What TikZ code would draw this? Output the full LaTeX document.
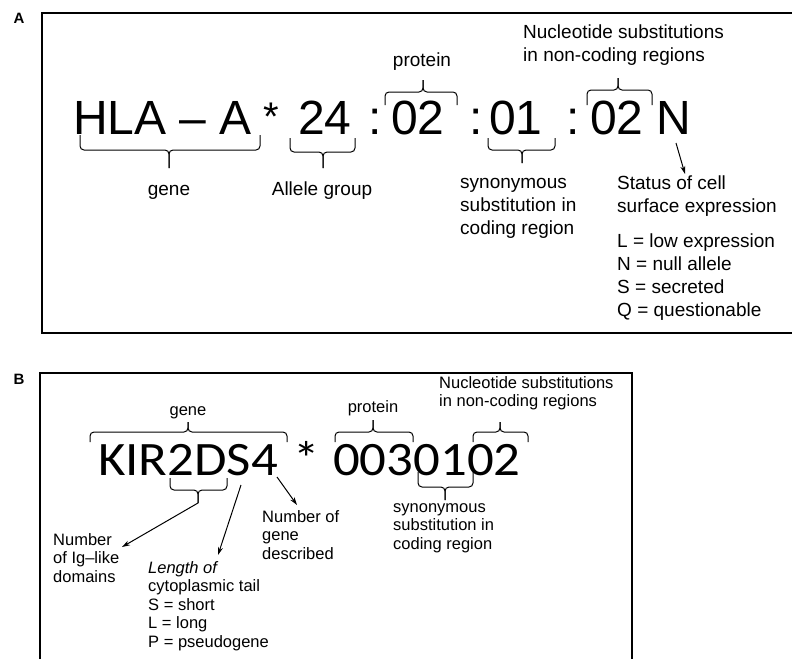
\documentclass[tikz,border=0pt]{standalone}
\usepackage{fontspec}
\usepackage{graphicx}
\setmainfont{Liberation Sans}
\newfontfamily\kirfont{Carlito}
\usetikzlibrary{arrows.meta}

\begin{document}
\begin{tikzpicture}[x=1pt,y=-1pt]
\tikzset{
  bigtxt/.style={inner sep=0pt,anchor=base west,font=\fontsize{48}{58}\selectfont},
  kirtxt/.style={inner sep=0pt,anchor=base west,font=\kirfont\fontsize{48}{58}\selectfont},
  lblA/.style={inner sep=0pt,align=left,anchor=base west,font=\fontsize{19}{23}\selectfont},
  lblB/.style={inner sep=0pt,align=left,anchor=base west,font=\fontsize{16.5}{18.5}\selectfont},
  brace/.style={line width=1pt,rounded corners=4pt},
  ptr/.style={line width=1pt,-{Stealth[length=8pt,width=5pt]}},
  frame/.style={line width=1.3pt},
  panel/.style={inner sep=0pt,font=\bfseries\fontsize{15}{18}\selectfont}
}
\useasboundingbox (0,0) rectangle (792,659);

% panel A
\node[panel] (pA) at (19,18) {A};
\draw[frame] (792,13) -- (42,13) -- (42,333) -- (792,333);
\node[bigtxt] (hla) at (73,134) {HLA -- A};
\node[bigtxt,font=\fontsize{40}{48}\selectfont] (astA) at (263,130) {*};
\node[bigtxt] (grp) at (298,134) {24};
\node[bigtxt] (colA) at (368,134) {:};
\node[bigtxt] (prot) at (391,134) {02};
\node[bigtxt] (colB) at (469,134) {:};
\node[bigtxt] (syn) at (489,134) {01};
\node[bigtxt] (colC) at (566,134) {:};
\node[bigtxt] (nonc) at (590,134) {02};
\node[bigtxt] (nN) at (656,134) {N};

% multi-line labels sit on their last line
\node[lblA,anchor=base] (geneA) at (169,195) {gene};
\node[lblA,anchor=base] (allele) at (322,195) {Allele group};
\node[lblA,anchor=base] (protA) at (422,66) {protein};
\node[lblA] (noncA) at (523,61) {Nucleotide substitutions\\in non-coding regions};
\node[lblA] (synA) at (460,234) {synonymous\\substitution in\\coding region};
\node[lblA] (stat) at (617,212) {Status of cell\\surface expression};
\node[lblA] (codes) at (617,316) {L = low expression\\N = null allele\\S = secreted\\Q = questionable};

\draw[brace] (80,135) |- (169,150) -- (169,168);
\draw[brace] (260,135) |- (169,150) -- (169,168);
\draw[brace] (290,138) |- (323,152) -- (323,168);
\draw[brace] (355,138) |- (323,152) -- (323,168);
\draw[brace] (385,105) |- (423,92) -- (423,80);
\draw[brace] (457,105) |- (423,92) -- (423,80);
\draw[brace] (488,138) |- (522,150) -- (522,163);
\draw[brace] (555,138) |- (522,150) -- (522,163);
\draw[brace] (587,105) |- (618,90) -- (618,78);
\draw[brace] (652,105) |- (618,90) -- (618,78);

\coordinate (nFrom) at (676,143);
\coordinate (nTo) at (685,174);
\draw[ptr] (nFrom) -- (nTo);

% panel B
\node[panel] (pB) at (19,379) {B};
\draw[frame] (40,659) -- (40,373) -- (632,373) -- (632,659);
\node[kirtxt] (kir) at (98,475) {\scalebox{1.1}[1]{KIR2DS4}};
\node[kirtxt] (astB) at (293,475) {\scalebox{1.1}[1]{*}};
\node[kirtxt] (num) at (333,475) {\scalebox{1.1}[1]{0030102}};

\node[lblB,anchor=base] (geneB) at (188,415) {gene};
\node[lblB,anchor=base] (protB) at (373,412) {protein};
\node[lblB] (noncB) at (439,406.5) {Nucleotide substitutions\\in non-coding regions};
\node[lblB] (synB) at (393,549) {synonymous\\substitution in\\coding region};
\node[lblB] (igdom) at (53,582) {Number\\of Ig--like\\domains};
\node[lblB] (tail) at (148,647) {{\itshape Length of}\\cytoplasmic tail\\S = short\\L = long\\P = pseudogene};
\node[lblB] (gnum) at (262,559) {Number of\\gene\\described};

\draw[brace] (90,442) |- (188,432) -- (188,422);
\draw[brace] (287,442) |- (188,432) -- (188,422);
\draw[brace] (335,442) |- (373,432) -- (373,420);
\draw[brace] (413,442) |- (373,432) -- (373,420);
\draw[brace] (473,442) |- (500,432) -- (500,422);
\draw[brace] (528,442) |- (500,432) -- (500,422);
\draw[brace] (418,472) |- (445,487) -- (445,500);
\draw[brace] (473,472) |- (445,487) -- (445,500);
\draw[brace] (170,478) |- (198,490) -- (198,503);
\draw[brace] (227,478) |- (198,490) -- (198,503);

\coordinate (twoD) at (198,503);
\coordinate (igTo) at (122,547);
\coordinate (sFrom) at (241,485);
\coordinate (sTo) at (218,555);
\coordinate (fFrom) at (277,477);
\coordinate (fTo) at (297,505);
\draw[ptr] (twoD) -- (igTo);
\draw[ptr] (sFrom) -- (sTo);
\draw[ptr] (fFrom) -- (fTo);
\end{tikzpicture}
\end{document}
